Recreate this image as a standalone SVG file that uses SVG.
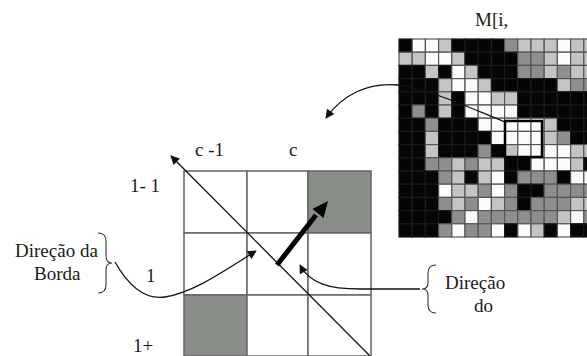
<svg xmlns="http://www.w3.org/2000/svg" width="587" height="356" viewBox="0 0 587 356">
<style>
.t{font-family:'Liberation Serif',serif !important;font-size:19px;fill:#1a1a1a}
.cell{stroke:#666;stroke-width:1.5}
.gc{fill:#888d88}
.wc{fill:#fff}
.K{fill:#050505;stroke:#1a1a1a}.G{fill:#8e8e8e}.L{fill:#c4c4c4}.W{fill:#fbfbfb}
.m rect{stroke-width:1.2}
.m rect.G,.m rect.L,.m rect.W{stroke:#555}
.ln{fill:none;stroke:#111;stroke-width:1.3}
.br{fill:none;stroke:#333;stroke-width:1.1}
</style>
<defs>
<marker id="ah" viewBox="0 0 10 10" refX="9" refY="5" markerWidth="10" markerHeight="9" markerUnits="userSpaceOnUse" orient="auto"><path d="M0,0 L10,5 L0,10 z" fill="#111"/></marker>
</defs>
<rect width="587" height="356" fill="#fff"/>
<g id="matrix" class="m">
<g id="row0"><rect class="K" x="399" y="39" width="13.2" height="13.2"/><rect class="W" x="412.2" y="39" width="13.2" height="13.2"/><rect class="W" x="425.4" y="39" width="13.2" height="13.2"/><rect class="L" x="438.6" y="39" width="13.2" height="13.2"/><rect class="K" x="451.8" y="39" width="13.2" height="13.2"/><rect class="K" x="465" y="39" width="13.2" height="13.2"/><rect class="K" x="478.2" y="39" width="13.2" height="13.2"/><rect class="K" x="491.4" y="39" width="13.2" height="13.2"/><rect class="G" x="504.6" y="39" width="13.2" height="13.2"/><rect class="L" x="517.8" y="39" width="13.2" height="13.2"/><rect class="L" x="531" y="39" width="13.2" height="13.2"/><rect class="L" x="544.2" y="39" width="13.2" height="13.2"/><rect class="W" x="557.4" y="39" width="13.2" height="13.2"/><rect class="L" x="570.6" y="39" width="13.2" height="13.2"/><rect class="L" x="583.8" y="39" width="13.2" height="13.2"/></g>
<g id="row1"><rect class="L" x="399" y="52.2" width="13.2" height="13.2"/><rect class="L" x="412.2" y="52.2" width="13.2" height="13.2"/><rect class="W" x="425.4" y="52.2" width="13.2" height="13.2"/><rect class="W" x="438.6" y="52.2" width="13.2" height="13.2"/><rect class="L" x="451.8" y="52.2" width="13.2" height="13.2"/><rect class="K" x="465" y="52.2" width="13.2" height="13.2"/><rect class="K" x="478.2" y="52.2" width="13.2" height="13.2"/><rect class="K" x="491.4" y="52.2" width="13.2" height="13.2"/><rect class="K" x="504.6" y="52.2" width="13.2" height="13.2"/><rect class="G" x="517.8" y="52.2" width="13.2" height="13.2"/><rect class="G" x="531" y="52.2" width="13.2" height="13.2"/><rect class="L" x="544.2" y="52.2" width="13.2" height="13.2"/><rect class="W" x="557.4" y="52.2" width="13.2" height="13.2"/><rect class="L" x="570.6" y="52.2" width="13.2" height="13.2"/><rect class="L" x="583.8" y="52.2" width="13.2" height="13.2"/></g>
<g id="row2"><rect class="K" x="399" y="65.4" width="13.2" height="13.2"/><rect class="K" x="412.2" y="65.4" width="13.2" height="13.2"/><rect class="L" x="425.4" y="65.4" width="13.2" height="13.2"/><rect class="K" x="438.6" y="65.4" width="13.2" height="13.2"/><rect class="W" x="451.8" y="65.4" width="13.2" height="13.2"/><rect class="L" x="465" y="65.4" width="13.2" height="13.2"/><rect class="K" x="478.2" y="65.4" width="13.2" height="13.2"/><rect class="K" x="491.4" y="65.4" width="13.2" height="13.2"/><rect class="K" x="504.6" y="65.4" width="13.2" height="13.2"/><rect class="G" x="517.8" y="65.4" width="13.2" height="13.2"/><rect class="G" x="531" y="65.4" width="13.2" height="13.2"/><rect class="L" x="544.2" y="65.4" width="13.2" height="13.2"/><rect class="G" x="557.4" y="65.4" width="13.2" height="13.2"/><rect class="L" x="570.6" y="65.4" width="13.2" height="13.2"/><rect class="L" x="583.8" y="65.4" width="13.2" height="13.2"/></g>
<g id="row3"><rect class="K" x="399" y="78.6" width="13.2" height="13.2"/><rect class="K" x="412.2" y="78.6" width="13.2" height="13.2"/><rect class="K" x="425.4" y="78.6" width="13.2" height="13.2"/><rect class="L" x="438.6" y="78.6" width="13.2" height="13.2"/><rect class="W" x="451.8" y="78.6" width="13.2" height="13.2"/><rect class="W" x="465" y="78.6" width="13.2" height="13.2"/><rect class="L" x="478.2" y="78.6" width="13.2" height="13.2"/><rect class="K" x="491.4" y="78.6" width="13.2" height="13.2"/><rect class="K" x="504.6" y="78.6" width="13.2" height="13.2"/><rect class="K" x="517.8" y="78.6" width="13.2" height="13.2"/><rect class="K" x="531" y="78.6" width="13.2" height="13.2"/><rect class="K" x="544.2" y="78.6" width="13.2" height="13.2"/><rect class="L" x="557.4" y="78.6" width="13.2" height="13.2"/><rect class="G" x="570.6" y="78.6" width="13.2" height="13.2"/><rect class="G" x="583.8" y="78.6" width="13.2" height="13.2"/></g>
<g id="row4"><rect class="K" x="399" y="91.8" width="13.2" height="13.2"/><rect class="K" x="412.2" y="91.8" width="13.2" height="13.2"/><rect class="K" x="425.4" y="91.8" width="13.2" height="13.2"/><rect class="L" x="438.6" y="91.8" width="13.2" height="13.2"/><rect class="K" x="451.8" y="91.8" width="13.2" height="13.2"/><rect class="W" x="465" y="91.8" width="13.2" height="13.2"/><rect class="W" x="478.2" y="91.8" width="13.2" height="13.2"/><rect class="L" x="491.4" y="91.8" width="13.2" height="13.2"/><rect class="L" x="504.6" y="91.8" width="13.2" height="13.2"/><rect class="K" x="517.8" y="91.8" width="13.2" height="13.2"/><rect class="K" x="531" y="91.8" width="13.2" height="13.2"/><rect class="K" x="544.2" y="91.8" width="13.2" height="13.2"/><rect class="K" x="557.4" y="91.8" width="13.2" height="13.2"/><rect class="K" x="570.6" y="91.8" width="13.2" height="13.2"/><rect class="K" x="583.8" y="91.8" width="13.2" height="13.2"/></g>
<g id="row5"><rect class="K" x="399" y="105" width="13.2" height="13.2"/><rect class="G" x="412.2" y="105" width="13.2" height="13.2"/><rect class="K" x="425.4" y="105" width="13.2" height="13.2"/><rect class="L" x="438.6" y="105" width="13.2" height="13.2"/><rect class="K" x="451.8" y="105" width="13.2" height="13.2"/><rect class="W" x="465" y="105" width="13.2" height="13.2"/><rect class="W" x="478.2" y="105" width="13.2" height="13.2"/><rect class="W" x="491.4" y="105" width="13.2" height="13.2"/><rect class="W" x="504.6" y="105" width="13.2" height="13.2"/><rect class="K" x="517.8" y="105" width="13.2" height="13.2"/><rect class="K" x="531" y="105" width="13.2" height="13.2"/><rect class="K" x="544.2" y="105" width="13.2" height="13.2"/><rect class="K" x="557.4" y="105" width="13.2" height="13.2"/><rect class="K" x="570.6" y="105" width="13.2" height="13.2"/><rect class="K" x="583.8" y="105" width="13.2" height="13.2"/></g>
<g id="row6"><rect class="K" x="399" y="118.2" width="13.2" height="13.2"/><rect class="K" x="412.2" y="118.2" width="13.2" height="13.2"/><rect class="G" x="425.4" y="118.2" width="13.2" height="13.2"/><rect class="K" x="438.6" y="118.2" width="13.2" height="13.2"/><rect class="K" x="451.8" y="118.2" width="13.2" height="13.2"/><rect class="K" x="465" y="118.2" width="13.2" height="13.2"/><rect class="W" x="478.2" y="118.2" width="13.2" height="13.2"/><rect class="W" x="491.4" y="118.2" width="13.2" height="13.2"/><rect class="W" x="504.6" y="118.2" width="13.2" height="13.2"/><rect class="W" x="517.8" y="118.2" width="13.2" height="13.2"/><rect class="W" x="531" y="118.2" width="13.2" height="13.2"/><rect class="L" x="544.2" y="118.2" width="13.2" height="13.2"/><rect class="K" x="557.4" y="118.2" width="13.2" height="13.2"/><rect class="K" x="570.6" y="118.2" width="13.2" height="13.2"/><rect class="K" x="583.8" y="118.2" width="13.2" height="13.2"/></g>
<g id="row7"><rect class="K" x="399" y="131.4" width="13.2" height="13.2"/><rect class="K" x="412.2" y="131.4" width="13.2" height="13.2"/><rect class="L" x="425.4" y="131.4" width="13.2" height="13.2"/><rect class="K" x="438.6" y="131.4" width="13.2" height="13.2"/><rect class="K" x="451.8" y="131.4" width="13.2" height="13.2"/><rect class="K" x="465" y="131.4" width="13.2" height="13.2"/><rect class="K" x="478.2" y="131.4" width="13.2" height="13.2"/><rect class="W" x="491.4" y="131.4" width="13.2" height="13.2"/><rect class="W" x="504.6" y="131.4" width="13.2" height="13.2"/><rect class="W" x="517.8" y="131.4" width="13.2" height="13.2"/><rect class="W" x="531" y="131.4" width="13.2" height="13.2"/><rect class="L" x="544.2" y="131.4" width="13.2" height="13.2"/><rect class="G" x="557.4" y="131.4" width="13.2" height="13.2"/><rect class="K" x="570.6" y="131.4" width="13.2" height="13.2"/><rect class="K" x="583.8" y="131.4" width="13.2" height="13.2"/></g>
<g id="row8"><rect class="K" x="399" y="144.6" width="13.2" height="13.2"/><rect class="K" x="412.2" y="144.6" width="13.2" height="13.2"/><rect class="L" x="425.4" y="144.6" width="13.2" height="13.2"/><rect class="K" x="438.6" y="144.6" width="13.2" height="13.2"/><rect class="K" x="451.8" y="144.6" width="13.2" height="13.2"/><rect class="K" x="465" y="144.6" width="13.2" height="13.2"/><rect class="G" x="478.2" y="144.6" width="13.2" height="13.2"/><rect class="K" x="491.4" y="144.6" width="13.2" height="13.2"/><rect class="L" x="504.6" y="144.6" width="13.2" height="13.2"/><rect class="W" x="517.8" y="144.6" width="13.2" height="13.2"/><rect class="W" x="531" y="144.6" width="13.2" height="13.2"/><rect class="W" x="544.2" y="144.6" width="13.2" height="13.2"/><rect class="W" x="557.4" y="144.6" width="13.2" height="13.2"/><rect class="L" x="570.6" y="144.6" width="13.2" height="13.2"/><rect class="L" x="583.8" y="144.6" width="13.2" height="13.2"/></g>
<g id="row9"><rect class="K" x="399" y="157.8" width="13.2" height="13.2"/><rect class="K" x="412.2" y="157.8" width="13.2" height="13.2"/><rect class="G" x="425.4" y="157.8" width="13.2" height="13.2"/><rect class="G" x="438.6" y="157.8" width="13.2" height="13.2"/><rect class="L" x="451.8" y="157.8" width="13.2" height="13.2"/><rect class="G" x="465" y="157.8" width="13.2" height="13.2"/><rect class="L" x="478.2" y="157.8" width="13.2" height="13.2"/><rect class="L" x="491.4" y="157.8" width="13.2" height="13.2"/><rect class="K" x="504.6" y="157.8" width="13.2" height="13.2"/><rect class="K" x="517.8" y="157.8" width="13.2" height="13.2"/><rect class="W" x="531" y="157.8" width="13.2" height="13.2"/><rect class="W" x="544.2" y="157.8" width="13.2" height="13.2"/><rect class="W" x="557.4" y="157.8" width="13.2" height="13.2"/><rect class="L" x="570.6" y="157.8" width="13.2" height="13.2"/><rect class="K" x="583.8" y="157.8" width="13.2" height="13.2"/></g>
<g id="row10"><rect class="K" x="399" y="171" width="13.2" height="13.2"/><rect class="K" x="412.2" y="171" width="13.2" height="13.2"/><rect class="K" x="425.4" y="171" width="13.2" height="13.2"/><rect class="G" x="438.6" y="171" width="13.2" height="13.2"/><rect class="L" x="451.8" y="171" width="13.2" height="13.2"/><rect class="K" x="465" y="171" width="13.2" height="13.2"/><rect class="L" x="478.2" y="171" width="13.2" height="13.2"/><rect class="W" x="491.4" y="171" width="13.2" height="13.2"/><rect class="K" x="504.6" y="171" width="13.2" height="13.2"/><rect class="G" x="517.8" y="171" width="13.2" height="13.2"/><rect class="G" x="531" y="171" width="13.2" height="13.2"/><rect class="G" x="544.2" y="171" width="13.2" height="13.2"/><rect class="K" x="557.4" y="171" width="13.2" height="13.2"/><rect class="W" x="570.6" y="171" width="13.2" height="13.2"/><rect class="W" x="583.8" y="171" width="13.2" height="13.2"/></g>
<g id="row11"><rect class="K" x="399" y="184.2" width="13.2" height="13.2"/><rect class="K" x="412.2" y="184.2" width="13.2" height="13.2"/><rect class="K" x="425.4" y="184.2" width="13.2" height="13.2"/><rect class="W" x="438.6" y="184.2" width="13.2" height="13.2"/><rect class="L" x="451.8" y="184.2" width="13.2" height="13.2"/><rect class="L" x="465" y="184.2" width="13.2" height="13.2"/><rect class="G" x="478.2" y="184.2" width="13.2" height="13.2"/><rect class="W" x="491.4" y="184.2" width="13.2" height="13.2"/><rect class="G" x="504.6" y="184.2" width="13.2" height="13.2"/><rect class="K" x="517.8" y="184.2" width="13.2" height="13.2"/><rect class="K" x="531" y="184.2" width="13.2" height="13.2"/><rect class="G" x="544.2" y="184.2" width="13.2" height="13.2"/><rect class="G" x="557.4" y="184.2" width="13.2" height="13.2"/><rect class="G" x="570.6" y="184.2" width="13.2" height="13.2"/><rect class="G" x="583.8" y="184.2" width="13.2" height="13.2"/></g>
<g id="row12"><rect class="K" x="399" y="197.4" width="13.2" height="13.2"/><rect class="K" x="412.2" y="197.4" width="13.2" height="13.2"/><rect class="K" x="425.4" y="197.4" width="13.2" height="13.2"/><rect class="G" x="438.6" y="197.4" width="13.2" height="13.2"/><rect class="L" x="451.8" y="197.4" width="13.2" height="13.2"/><rect class="G" x="465" y="197.4" width="13.2" height="13.2"/><rect class="W" x="478.2" y="197.4" width="13.2" height="13.2"/><rect class="L" x="491.4" y="197.4" width="13.2" height="13.2"/><rect class="G" x="504.6" y="197.4" width="13.2" height="13.2"/><rect class="K" x="517.8" y="197.4" width="13.2" height="13.2"/><rect class="G" x="531" y="197.4" width="13.2" height="13.2"/><rect class="G" x="544.2" y="197.4" width="13.2" height="13.2"/><rect class="G" x="557.4" y="197.4" width="13.2" height="13.2"/><rect class="L" x="570.6" y="197.4" width="13.2" height="13.2"/><rect class="L" x="583.8" y="197.4" width="13.2" height="13.2"/></g>
<g id="row13"><rect class="K" x="399" y="210.6" width="13.2" height="13.2"/><rect class="K" x="412.2" y="210.6" width="13.2" height="13.2"/><rect class="K" x="425.4" y="210.6" width="13.2" height="13.2"/><rect class="K" x="438.6" y="210.6" width="13.2" height="13.2"/><rect class="G" x="451.8" y="210.6" width="13.2" height="13.2"/><rect class="W" x="465" y="210.6" width="13.2" height="13.2"/><rect class="G" x="478.2" y="210.6" width="13.2" height="13.2"/><rect class="G" x="491.4" y="210.6" width="13.2" height="13.2"/><rect class="G" x="504.6" y="210.6" width="13.2" height="13.2"/><rect class="G" x="517.8" y="210.6" width="13.2" height="13.2"/><rect class="G" x="531" y="210.6" width="13.2" height="13.2"/><rect class="G" x="544.2" y="210.6" width="13.2" height="13.2"/><rect class="L" x="557.4" y="210.6" width="13.2" height="13.2"/><rect class="W" x="570.6" y="210.6" width="13.2" height="13.2"/><rect class="G" x="583.8" y="210.6" width="13.2" height="13.2"/></g>
<g id="row14"><rect class="K" x="399" y="223.8" width="13.2" height="13.2"/><rect class="K" x="412.2" y="223.8" width="13.2" height="13.2"/><rect class="K" x="425.4" y="223.8" width="13.2" height="13.2"/><rect class="G" x="438.6" y="223.8" width="13.2" height="13.2"/><rect class="W" x="451.8" y="223.8" width="13.2" height="13.2"/><rect class="G" x="465" y="223.8" width="13.2" height="13.2"/><rect class="G" x="478.2" y="223.8" width="13.2" height="13.2"/><rect class="W" x="491.4" y="223.8" width="13.2" height="13.2"/><rect class="K" x="504.6" y="223.8" width="13.2" height="13.2"/><rect class="W" x="517.8" y="223.8" width="13.2" height="13.2"/><rect class="L" x="531" y="223.8" width="13.2" height="13.2"/><rect class="K" x="544.2" y="223.8" width="13.2" height="13.2"/><rect class="W" x="557.4" y="223.8" width="13.2" height="13.2"/><rect class="K" x="570.6" y="223.8" width="13.2" height="13.2"/><rect class="K" x="583.8" y="223.8" width="13.2" height="13.2"/></g>
</g>
<g id="highlight"><rect x="505" y="121" width="37" height="36" fill="none" stroke="#000" stroke-width="2.5"/></g>
<g id="matrix-label"><text class="t" style="font-family:'Liberation Serif',serif" x="475" y="26">M[i,</text></g>
<g id="grid">
<rect class="cell wc" x="184" y="171" width="63" height="62"/>
<rect class="cell wc" x="247" y="171" width="61" height="62"/>
<rect class="cell gc" x="308" y="171" width="63" height="62"/>
<rect class="cell wc" x="184" y="233" width="63" height="62"/>
<rect class="cell wc" x="247" y="233" width="61" height="62"/>
<rect class="cell wc" x="308" y="233" width="63" height="62"/>
<rect class="cell gc" x="184" y="295" width="63" height="61"/>
<rect class="cell wc" x="247" y="295" width="61" height="61"/>
<rect class="cell wc" x="308" y="295" width="63" height="61"/>
</g>
<g id="labels">
<text class="t" style="font-family:'Liberation Serif',serif" x="195" y="156">c -1</text>
<text class="t" style="font-family:'Liberation Serif',serif" x="289" y="156">c</text>
<text class="t" style="font-family:'Liberation Serif',serif" x="130" y="192">1- 1</text>
<text class="t" style="font-family:'Liberation Serif',serif" x="146" y="282">1</text>
<text class="t" style="font-family:'Liberation Serif',serif" x="133" y="352">1+</text>
</g>
<g id="edge-label">
<text class="t" style="font-family:'Liberation Serif',serif" x="15" y="257">Direção da</text>
<text class="t" style="font-family:'Liberation Serif',serif" x="34" y="280">Borda</text>
<path class="br" d="M98,233 Q106,233 106,241 L106,256 Q106,263 112,263 Q106,263 106,270 L106,285 Q106,293 98,293"/>
</g>
<g id="dir-label">
<text class="t" style="font-family:'Liberation Serif',serif" x="445" y="289">Direção</text>
<text class="t" style="font-family:'Liberation Serif',serif" x="474" y="312">do</text>
<path class="br" d="M436,265 Q428,265 428,273 L428,283 Q428,289 422,289 Q428,289 428,295 L428,305 Q428,313 436,313"/>
</g>
<g id="connectors">
<path class="ln" d="M371,357 L171,156" marker-end="url(#ah)"/>
<path class="ln" d="M505,122 C470,108 432,90 398,85 C368,82 342,95 326,118" stroke-width="1.6" marker-end="url(#ah)"/>
<path class="ln" d="M115,262 C128,285 145,300 165,297 C195,292 225,270 256,251" marker-end="url(#ah)"/>
<path class="ln" d="M420,289 L360,289 C330,289 310,284 300,265" marker-end="url(#ah)"/>
<path d="M277,265 L316,215" stroke="#000" stroke-width="5" fill="none"/>
<polygon points="328,201 323.5,217.9 312.5,209.1" fill="#000"/>
</g>
</svg>
